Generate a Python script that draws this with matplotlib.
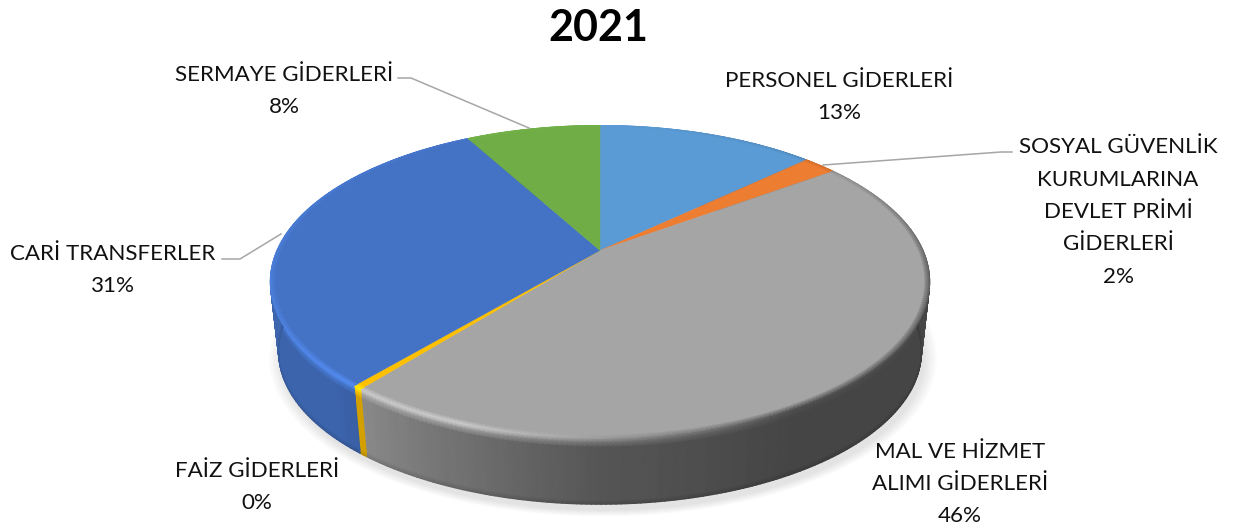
# Camembert 3D 2021 : perspective par homographie du disque unite, parois et
# biseau en degrades gouraud.
import numpy as np
import matplotlib
matplotlib.use("Agg")
import matplotlib.pyplot as plt
from matplotlib.colors import ListedColormap, to_rgb

plt.rcParams["font.family"] = ["Lato", "DejaVu Sans"]

TITRE = "2021"
NOMS = ["PERSONEL GİDERLERİ", "SOSYAL GÜVENLİK\nKURUMLARINA\nDEVLET PRİMİ\nGİDERLERİ",
        "MAL VE HİZMET\nALIMI GİDERLERİ", "FAİZ GİDERLERİ", "CARİ TRANSFERLER",
        "SERMAYE GİDERLERİ"]
VALEURS = [13, 2, 46, 0.4, 31, 8]
COULEURS = ["#5B9BD5", "#ED7D31", "#A5A5A5", "#FFC000", "#4472C4", "#70AD47"]
POS_ETIQ = [(839, 97), (1118, 212), (960, 484), (257, 487), (113, 270), (284, 91)]

# centre, echelle et perspective de la face superieure
CX, CY = 600, 250.5
A, B, K = 323, 150, 0.2
HAUTEUR = 71
RETRAIT = 0.025

# eclairage (angle en degres depuis le haut, sens horaire)
ANG = [0, 60, 100, 150, 180, 200, 225, 250, 280, 360]
MUR = [.5, .42, .42, .42, .52, .68, .88, .88, .92, .9]
BISEAU = [1.0, .85, .5, .5, .95, 1.25, 1.25, 1.15, 1.12, 1.0]


def projeter(t, r=1.0, z=0.0):
    u = r * np.sin(t)
    v = -r * np.cos(t)
    den = 1 - K * v
    s = 1 - RETRAIT * z
    return CX + s * A * u / den, CY + s * B * v / den + HAUTEUR * z


def carte(coul):
    rgb = np.array(to_rgb(coul))
    return ListedColormap(np.clip(np.linspace(0, 2, 256)[:, None] * rgb, 0, 1))


fig = plt.figure(figsize=(12.38, 5.28), dpi=100)
ax = fig.add_axes([0, 0, 1, 1])
ax.set_xlim(0, 1238)
ax.set_ylim(528, 0)
ax.axis("off")

# ombre portee
tt = np.linspace(0, 2 * np.pi, 300)
for g in np.linspace(1.04, 1.0, 14):
    ox, oy = projeter(tt, 1, 1)
    ax.fill(CX + 3 + (ox - CX) * g, CY + 95 + (oy - CY - 95) * g + 6, color="k", alpha=0.008, lw=0, zorder=1)

bornes = np.cumsum([0] + VALEURS) / np.sum(VALEURS) * 2 * np.pi
for i, coul in enumerate(COULEURS):
    t = np.linspace(bornes[i], bornes[i + 1], max(3, int((bornes[i + 1] - bornes[i]) * 80)))
    deg = np.degrees(t)
    mur = np.interp(deg, ANG, MUR)
    bis = np.interp(deg, ANG, BISEAU)
    # parois : de haut en bas
    niveaux = [0, 0.06, 0.14, 0.94, 1.0]
    X = np.array([projeter(t, 1, z)[0] for z in niveaux])
    Y = np.array([projeter(t, 1, z)[1] for z in niveaux])
    C = np.array([bis, .5 * (bis + mur), mur, mur, mur * .85])
    ax.pcolormesh(X, Y, C, cmap=carte(coul), vmin=0, vmax=2, shading="gouraud", zorder=2 + .01 * i)

    # face superieure
    px, py = projeter(t, 1)
    ax.fill(np.r_[CX, px], np.r_[CY, py], color=coul, lw=0.3, ec=coul, zorder=3)
    # biseau le long du bord
    rayons = [0.985, 1.0]
    X = np.array([projeter(t, r)[0] for r in rayons])
    Y = np.array([projeter(t, r)[1] for r in rayons])
    C = np.array([np.ones_like(t), bis])
    ax.pcolormesh(X, Y, C, cmap=carte(coul), vmin=0, vmax=2, shading="gouraud", zorder=4)

# traits de rappel
GRIS = "#A6A6A6"
ax.plot([398, 411, 529], [78, 78, 128], color=GRIS, lw=1.1, zorder=5)
ax.plot([1012, 1001, 823], [152, 152, 165], color=GRIS, lw=1.1, zorder=5)
ax.plot([222, 240, 281], [259, 259, 234], color=GRIS, lw=1.1, zorder=5)

for nom, val, (x, y) in zip(NOMS, VALEURS, POS_ETIQ):
    ax.text(x, y, f"{nom}\n{val:.0f}%", ha="center", va="center", fontsize=16.1,
            linespacing=1.78, color="#111111", zorder=6)

ax.text(598, 28, TITRE, ha="center", va="center", fontsize=31, fontweight="bold", color="black")

fig.savefig("out.png", dpi=100)
